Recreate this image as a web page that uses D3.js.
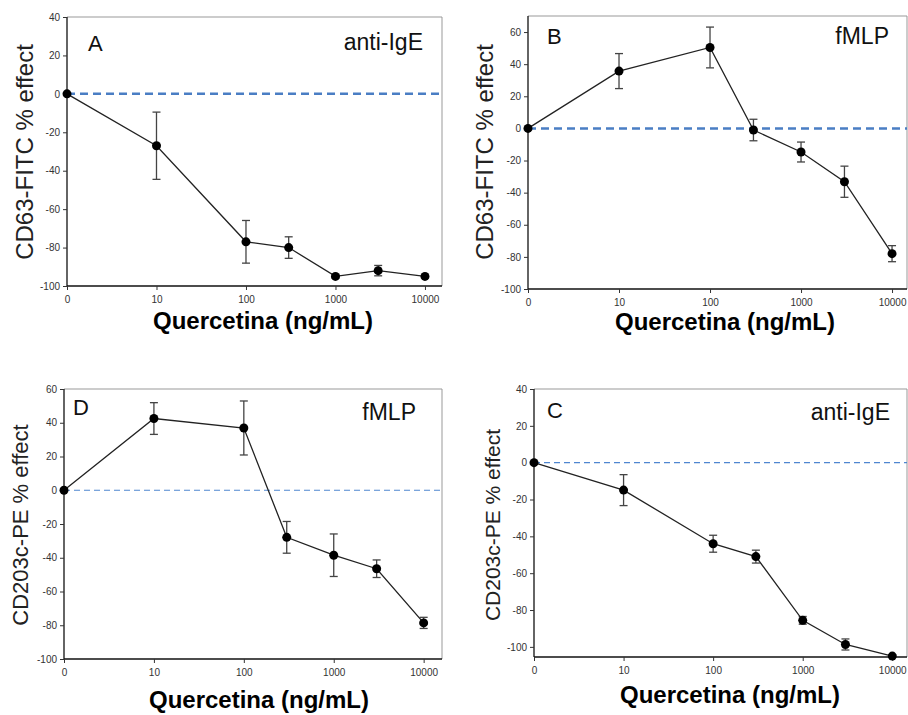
<!DOCTYPE html>
<html>
<head>
<meta charset="utf-8">
<script src="https://cdn.jsdelivr.net/npm/d3@7"></script>
<style>
  body { margin: 0; background: #fff; }
  svg { font-family: Arial, "Liberation Sans", sans-serif; }
</style>
</head>
<body>
<div id="chart"></div>
<script>
// doses (ng/mL); 0 is drawn one decade below 10
const doses = [0, 10, 100, 300, 1000, 3000, 10000];
const doseTicks = [0, 10, 100, 1000, 10000];
const doseTickLabels = ['0', '10', '100', '1000', '10000'];

const meanA = [0, -27, -77, -80, -95, -92, -95];
const errA  = [0, 17.5, 11.1, 5.6, 0.8, 2.7, 0.6];
const meanB = [0, 35.7, 50.4, -1, -14.7, -33.2, -78];
const errB  = [0, 10.9, 12.7, 6.7, 6.2, 9.7, 5];
const meanD = [0, 42.5, 36.9, -27.9, -38.5, -46.5, -78.6];
const errD  = [0, 9.4, 16, 9.4, 12.6, 5.2, 3.3];
const meanC = [0, -14.9, -44, -51, -85.6, -98.7, -105];
const errC  = [0, 8.4, 4.6, 3.5, 2.1, 3, 0.6];

const ticksA = [-100, -80, -60, -40, -20, 0, 20, 40];
const ticksB = [-100, -80, -60, -40, -20, 0, 20, 40, 60];
const ticksD = [-100, -80, -60, -40, -20, 0, 20, 40, 60];
const ticksC = [-100, -80, -60, -40, -20, 0, 20, 40];

const xTitle = 'Quercetina (ng/mL)';

const width = 908;
const height = 715;

const svg = d3.select('#chart')
  .append('svg')
  .attr('width', width)
  .attr('height', height)
  .attr('viewBox', [0, 0, width, height]);

const panels = [
  { letter: 'A', stim: 'anti-IgE', mean: meanA, err: errA, ticks: ticksA, yDomain: [-100, 40],
    yLabel: 'CD63-FITC % effect', box: { l: 67, r: 442, t: 17, b: 286 }, xMax: 15500,
    letterPos: [88, 51], stimPos: [423, 50], titlePos: [263, 329], yLabelPos: [25, 152], yFont: 24,
    dash: { w: 2.5, a: '8,5', c: '#4a7ec4' } },
  { letter: 'B', stim: 'fMLP', mean: meanB, err: errB, ticks: ticksB, yDomain: [-100, 70],
    yLabel: 'CD63-FITC % effect', box: { l: 528, r: 907, t: 16, b: 289 }, xMax: 14600,
    letterPos: [547, 44], stimPos: [889, 44], titlePos: [725, 330], yLabelPos: [485, 152], yFont: 24,
    dash: { w: 2.5, a: '8,5', c: '#4a7ec4' } },
  { letter: 'D', stim: 'fMLP', mean: meanD, err: errD, ticks: ticksD, yDomain: [-100, 60],
    yLabel: 'CD203c-PE % effect', box: { l: 64, r: 442, t: 389, b: 659 }, xMax: 16000,
    letterPos: [73, 415], stimPos: [416, 420], titlePos: [259, 708], yLabelPos: [20, 525], yFont: 22,
    dash: { w: 1.2, a: '6,4', c: '#4f86d0' } },
  { letter: 'C', stim: 'anti-IgE', mean: meanC, err: errC, ticks: ticksC, yDomain: [-105.5, 40],
    yLabel: 'CD203c-PE % effect', box: { l: 534, r: 907, t: 389, b: 657 }, xMax: 14600,
    letterPos: [547, 418], stimPos: [890, 420], titlePos: [730, 703], yLabelPos: [493, 525], yFont: 21,
    dash: { w: 1.2, a: '6,4', c: '#4f86d0' } }
];

panels.forEach(p => {
  const b = p.box;
  const x = d3.scaleLog().domain([1, p.xMax]).range([b.l, b.r]);
  const xp = d => x(d === 0 ? 1 : d);
  const y = d3.scaleLinear().domain(p.yDomain).range([b.b, b.t]);

  const g = svg.append('g');

  // gray frame on top and right
  g.append('path')
    .attr('d', `M${b.l},${b.t}H${b.r}V${b.b}`)
    .attr('fill', 'none')
    .attr('stroke', '#999')
    .attr('stroke-width', 1);

  // zero reference line
  g.append('line')
    .attr('x1', b.l).attr('x2', b.r)
    .attr('y1', y(0)).attr('y2', y(0))
    .attr('stroke', p.dash.c)
    .attr('stroke-width', p.dash.w)
    .attr('stroke-dasharray', p.dash.a);

  const yAxis = g.append('g')
    .attr('transform', `translate(${b.l},0)`)
    .call(d3.axisLeft(y).tickValues(p.ticks).tickFormat(d => String(d))
      .tickSize(4).tickPadding(3).tickSizeOuter(0));

  const xAxis = g.append('g')
    .attr('transform', `translate(0,${b.b})`)
    .call(d3.axisBottom(x).tickValues(doseTicks.map(d => d === 0 ? 1 : d))
      .tickFormat((d, i) => doseTickLabels[i]).tickSize(4).tickPadding(6).tickSizeOuter(0));

  [yAxis, xAxis].forEach(ax => {
    ax.select('.domain').attr('stroke', '#111').attr('stroke-width', 1.3);
    ax.selectAll('.tick line').attr('stroke', '#333');
    ax.selectAll('text').attr('font-size', 10).attr('fill', '#333')
      .attr('font-family', 'Arial, "Liberation Sans", sans-serif');
  });
  yAxis.select('.domain').attr('d', `M0,${b.t}V${b.b}`);
  xAxis.select('.domain').attr('d', `M${b.l},0H${b.r}`);

  const pts = doses.map((d, i) => ({ d, m: p.mean[i], e: p.err[i] }));

  // error bars
  const eb = g.append('g').attr('stroke', '#444').attr('stroke-width', 1.3)
    .selectAll('g')
    .data(pts.filter(q => q.e > 0))
    .join('g');
  eb.append('line')
    .attr('x1', q => xp(q.d)).attr('x2', q => xp(q.d))
    .attr('y1', q => y(q.m + q.e)).attr('y2', q => y(q.m - q.e));
  eb.append('line')
    .attr('x1', q => xp(q.d) - 4).attr('x2', q => xp(q.d) + 4)
    .attr('y1', q => y(q.m + q.e)).attr('y2', q => y(q.m + q.e));
  eb.append('line')
    .attr('x1', q => xp(q.d) - 4).attr('x2', q => xp(q.d) + 4)
    .attr('y1', q => y(q.m - q.e)).attr('y2', q => y(q.m - q.e));

  g.append('path')
    .datum(pts)
    .attr('fill', 'none')
    .attr('stroke', '#222')
    .attr('stroke-width', 1.3)
    .attr('d', d3.line().x(q => xp(q.d)).y(q => y(q.m)));

  g.append('g')
    .selectAll('circle')
    .data(pts)
    .join('circle')
    .attr('cx', q => xp(q.d))
    .attr('cy', q => y(q.m))
    .attr('r', 4.5)
    .attr('fill', '#000');

  g.append('text')
    .attr('x', p.letterPos[0]).attr('y', p.letterPos[1])
    .attr('font-size', 22).attr('fill', '#111')
    .text(p.letter);

  g.append('text')
    .attr('x', p.stimPos[0]).attr('y', p.stimPos[1])
    .attr('text-anchor', 'end')
    .attr('font-size', 23).attr('fill', '#111')
    .text(p.stim);

  g.append('text')
    .attr('x', p.titlePos[0]).attr('y', p.titlePos[1])
    .attr('text-anchor', 'middle')
    .attr('font-size', 24).attr('font-weight', 'bold').attr('fill', '#000')
    .text(xTitle);

  g.append('text')
    .attr('transform', `translate(${p.yLabelPos[0]},${p.yLabelPos[1]}) rotate(-90)`)
    .attr('text-anchor', 'middle')
    .attr('dy', '0.35em')
    .attr('font-size', p.yFont).attr('fill', '#222')
    .text(p.yLabel);
});
</script>
</body>
</html>
